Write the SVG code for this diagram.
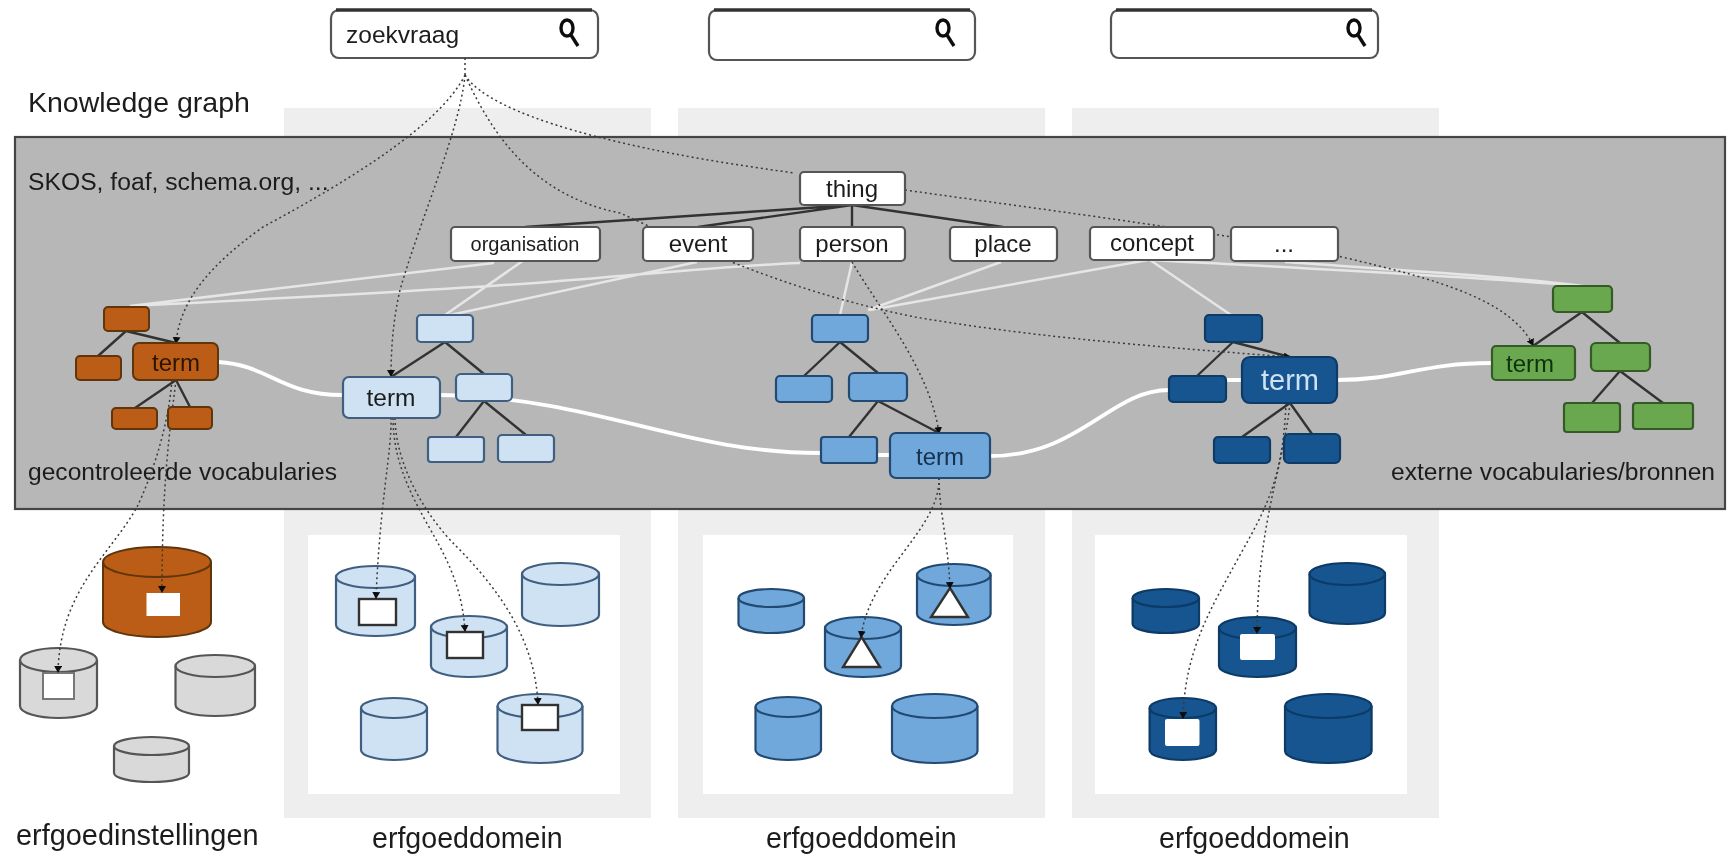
<svg xmlns="http://www.w3.org/2000/svg" width="1729" height="858" viewBox="0 0 1729 858">
<defs>
<marker id="ah" markerWidth="8" markerHeight="9" refX="6" refY="4" orient="auto" markerUnits="userSpaceOnUse"><path d="M0 0L7 4L0 8Z" fill="#111"/></marker>
<filter id="soft" x="0" y="0" width="1729" height="858" filterUnits="userSpaceOnUse"><feGaussianBlur stdDeviation="0.65"/></filter>
</defs>
<style>
text{font-family:"Liberation Sans",Arial,sans-serif;fill:#1c1c1c}
.c{text-anchor:middle}
.s{fill:#fff;stroke:#555;stroke-width:2.2}
.top{stroke:#333;stroke-width:3.5;fill:none}
.mag{fill:none;stroke:#111;stroke-width:3.4}
.col{fill:#eee}
.in{fill:#fff}
.b{fill:#fff;stroke:#555;stroke-width:2.2}
.o{fill:#bb5d12;stroke:#5e3610;stroke-width:2}
.l{fill:#cfe2f3;stroke:#3f5f80;stroke-width:2.2}
.m{fill:#6fa8dc;stroke:#234a72;stroke-width:2.2}
.d{fill:#14558f;stroke:#0c3a66;stroke-width:2.2}
.g{fill:#6aa84f;stroke:#345a26;stroke-width:2.2}
.y{fill:#d9d9d9;stroke:#555;stroke-width:2.2}
.rim{fill:none}
.w{fill:#fff;stroke:#333;stroke-width:2.4}
.wn{fill:#fff;stroke:none}
.tree{stroke:#333;stroke-width:2.4;fill:none}
.thin{stroke:#e6e6e6;stroke-width:2.5;fill:none}
.thick{stroke:#fff;stroke-width:3.8;fill:none}
.dot{stroke:#3a3a3a;stroke-width:1.5;stroke-dasharray:2 3;fill:none}
.arr{marker-end:url(#ah)}
</style>
<g filter="url(#soft)">
<g id="backgrounds">
<rect class="col" x="284" y="108" width="367" height="710"/>
<rect class="col" x="678" y="108" width="367" height="710"/>
<rect class="col" x="1072" y="108" width="367" height="710"/>
<rect class="in" x="308" y="535" width="312" height="259"/>
<rect class="in" x="703" y="535" width="310" height="259"/>
<rect class="in" x="1095" y="535" width="312" height="259"/>
</g>
<g id="knowledge-graph-panel">
<rect x="15" y="137" width="1710" height="372" fill="#b7b7b7" stroke="#444" stroke-width="2.2"/>
</g>
<g id="search-1">
<rect class="s" x="331" y="10" width="267" height="48" rx="8"/><path class="top" d="M336 10H592"/>
<ellipse class="mag" cx="567" cy="28" rx="6" ry="8"/><path class="mag" d="M571 35L578 46"/>
<text x="346" y="43" font-size="24.500">zoekvraag</text>
</g>
<g id="search-2">
<rect class="s" x="709" y="10" width="266" height="50" rx="8"/><path class="top" d="M714 10H970"/>
<ellipse class="mag" cx="943" cy="28" rx="6" ry="8"/><path class="mag" d="M947 35L954 46"/>
</g>
<g id="search-3">
<rect class="s" x="1111" y="10" width="267" height="48" rx="8"/><path class="top" d="M1116 10H1372"/>
<ellipse class="mag" cx="1354" cy="28" rx="6" ry="8"/><path class="mag" d="M1358 35L1365 46"/>
</g>
<g id="labels">
<text x="28" y="112" font-size="28.500">Knowledge graph</text>
<text x="28" y="190" font-size="24.700">SKOS, foaf, schema.org, ...</text>
<text x="28" y="480" font-size="24.600">gecontroleerde vocabularies</text>
<text x="1391" y="480" font-size="24.600">externe vocabularies/bronnen</text>
<text x="16" y="845" font-size="28.900">erfgoedinstellingen</text>
<text x="372" y="848" font-size="28.600">erfgoeddomein</text>
<text x="766" y="848" font-size="28.600">erfgoeddomein</text>
<text x="1159" y="848" font-size="28.600">erfgoeddomein</text>
</g>
<g id="cyl-orange"><path class="o" d="M103 562A54 15 0 0 1 211 562V622A54 15 0 0 1 103 622Z"/><path class="o rim" d="M103 562A54 15 0 0 0 211 562"/><rect class="wn" x="146.500" y="593" width="33.500" height="23"/></g>
<g id="cyl-gray-1"><path class="y" d="M20 660A38.500 12 0 0 1 97 660V706A38.500 12 0 0 1 20 706Z"/><path class="y rim" d="M20 660A38.500 12 0 0 0 97 660"/><rect x="43" y="673" width="31" height="26" fill="#fff" stroke="#777" stroke-width="2"/></g>
<g id="cyl-gray-2"><path class="y" d="M175.500 666A39.750 11 0 0 1 255 666V705A39.750 11 0 0 1 175.500 705Z"/><path class="y rim" d="M175.500 666A39.750 11 0 0 0 255 666"/></g>
<g id="cyl-gray-3"><path class="y" d="M114 746A37.500 9 0 0 1 189 746V773A37.500 9 0 0 1 114 773Z"/><path class="y rim" d="M114 746A37.500 9 0 0 0 189 746"/></g>
<g id="cyl-light-1"><path class="l" d="M336 577A39.500 11 0 0 1 415 577V625A39.500 11 0 0 1 336 625Z"/><path class="l rim" d="M336 577A39.500 11 0 0 0 415 577"/><rect class="w" x="359" y="599" width="37" height="26"/></g>
<g id="cyl-light-2"><path class="l" d="M522 574A38.500 11 0 0 1 599 574V615A38.500 11 0 0 1 522 615Z"/><path class="l rim" d="M522 574A38.500 11 0 0 0 599 574"/></g>
<g id="cyl-light-3"><path class="l" d="M431 627A38 11 0 0 1 507 627V666A38 11 0 0 1 431 666Z"/><path class="l rim" d="M431 627A38 11 0 0 0 507 627"/><rect class="w" x="447" y="632" width="36" height="26"/></g>
<g id="cyl-light-4"><path class="l" d="M361 708A33 10 0 0 1 427 708V750A33 10 0 0 1 361 750Z"/><path class="l rim" d="M361 708A33 10 0 0 0 427 708"/></g>
<g id="cyl-light-5"><path class="l" d="M497.500 706A42.500 12 0 0 1 582.500 706V751A42.500 12 0 0 1 497.500 751Z"/><path class="l rim" d="M497.500 706A42.500 12 0 0 0 582.500 706"/><rect class="w" x="522" y="705" width="36" height="25"/></g>
<g id="cyl-mid-1"><path class="m" d="M738.500 598A32.750 9 0 0 1 804 598V624A32.750 9 0 0 1 738.500 624Z"/><path class="m rim" d="M738.500 598A32.750 9 0 0 0 804 598"/></g>
<g id="cyl-mid-2"><path class="m" d="M825 628A38 11 0 0 1 901 628V666A38 11 0 0 1 825 666Z"/><path class="m rim" d="M825 628A38 11 0 0 0 901 628"/><path class="w" d="M861.500 637L880 667H843Z"/></g>
<g id="cyl-mid-3"><path class="m" d="M917 575A36.800 11 0 0 1 990.600 575V614A36.800 11 0 0 1 917 614Z"/><path class="m rim" d="M917 575A36.800 11 0 0 0 990.600 575"/><path class="w" d="M950 588L968 617H931Z"/></g>
<g id="cyl-mid-4"><path class="m" d="M755.500 707A32.750 10 0 0 1 821 707V750A32.750 10 0 0 1 755.500 750Z"/><path class="m rim" d="M755.500 707A32.750 10 0 0 0 821 707"/></g>
<g id="cyl-mid-5"><path class="m" d="M892 706A42.750 12 0 0 1 977.500 706V751A42.750 12 0 0 1 892 751Z"/><path class="m rim" d="M892 706A42.750 12 0 0 0 977.500 706"/></g>
<g id="cyl-dark-1"><path class="d" d="M1132.600 598A33.200 9 0 0 1 1199 598V624A33.200 9 0 0 1 1132.600 624Z"/><path class="d rim" d="M1132.600 598A33.200 9 0 0 0 1199 598"/></g>
<g id="cyl-dark-2"><path class="d" d="M1219 628A38.500 11 0 0 1 1296 628V666A38.500 11 0 0 1 1219 666Z"/><path class="d rim" d="M1219 628A38.500 11 0 0 0 1296 628"/><rect class="wn" x="1240" y="634" width="35" height="26" rx="2"/></g>
<g id="cyl-dark-3"><path class="d" d="M1309.500 574A37.750 11 0 0 1 1385 574V613A37.750 11 0 0 1 1309.500 613Z"/><path class="d rim" d="M1309.500 574A37.750 11 0 0 0 1385 574"/></g>
<g id="cyl-dark-4"><path class="d" d="M1149.600 708A33.200 10 0 0 1 1216 708V750A33.200 10 0 0 1 1149.600 750Z"/><path class="d rim" d="M1149.600 708A33.200 10 0 0 0 1216 708"/><rect class="wn" x="1165" y="719" width="34.500" height="27" rx="2"/></g>
<g id="cyl-dark-5"><path class="d" d="M1285 706A43.300 12 0 0 1 1371.600 706V751A43.300 12 0 0 1 1285 751Z"/><path class="d rim" d="M1285 706A43.300 12 0 0 0 1371.600 706"/></g>
<g id="connectors">
<path class="tree" d="M852 205L525 227M852 205L698 227M852 205V227M852 205L1003 227"/>
<path class="tree" d="M126 331L98 356M126 331L176 343M176 380L135 408M176 380L190 407"/>
<path class="tree" d="M445 342L391 377M445 342L484 374M484 401L456 437M484 401L526 435"/>
<path class="tree" d="M840 342L804 376M840 342L878 373M878 401L849 437M878 401L939 433"/>
<path class="tree" d="M1233 342L1197 376M1233 342L1290 357M1290 403L1242 437M1290 403L1312 434"/>
<path class="tree" d="M1582 312L1533 346M1582 312L1620 343M1620 371L1592 403M1620 371L1663 403"/>
<path class="thin" d="M494 263L130 306M800 263C720 266 640 275 548 282S250 300 130 306M524 260L445 315M697 262L450 315M852 262L840 315M1001 262L868 310M1148 260L870 310M1150 260L1231 315M1150 260C1300 268 1450 275 1583 286M1285 262C1400 270 1500 276 1583 286"/>
<path class="thick" d="M218 362C270 365 280 395 343 395M440 395C600 398 680 453 821 453M877 455H890M990 456C1080 456 1110 390 1169 390M1226 380H1242M1337 380C1400 380 1420 363 1492 363"/>
<path class="dot" d="M465 58V78"/>
<path class="dot arr" d="M465 75C440 125 350 180 263 227C210 265 180 300 176 343"/>
<path class="dot arr" d="M465 75C460 130 420 220 400 290C393 320 391 350 391 376"/>
<path class="dot arr" d="M465 75C490 130 530 195 620 213C680 240 780 290 915 317C1020 335 1130 345 1290 357"/>
<path class="dot arr" d="M465 75C490 115 620 150 795 173M905 190C1060 212 1220 232 1342 257C1440 280 1510 300 1533 345"/>
<path class="dot arr" d="M852 262C880 310 930 370 939 433"/>
<path class="dot arr" d="M176 380C170 430 162 480 162 592"/>
<path class="dot arr" d="M172 380C168 430 150 480 137 507C110 555 60 590 58 672"/>
<path class="dot arr" d="M391 418C392 450 380 500 376 598"/>
<path class="dot arr" d="M393 418C393 470 420 510 439 545C455 575 463 600 465 631"/>
<path class="dot arr" d="M395 418C396 470 430 520 455 545C500 590 535 640 538 704"/>
<path class="dot arr" d="M939 478C939 510 948 540 950 588"/>
<path class="dot arr" d="M939 478C940 530 870 570 861 637"/>
<path class="dot arr" d="M1290 403C1283 470 1258 520 1257 633"/>
<path class="dot arr" d="M1286 403C1283 480 1265 510 1240 555C1210 610 1185 650 1183 718"/>
</g>
<g id="thing"><rect class="b" x="800" y="172" width="105" height="33" rx="4"/><text class="c" x="852" y="197" font-size="24">thing</text></g>
<g id="organisation"><rect class="b" x="451" y="227" width="149" height="34" rx="4"/><text class="c" x="525" y="251" font-size="20">organisation</text></g>
<g id="event"><rect class="b" x="643" y="227" width="110" height="34" rx="4"/><text class="c" x="698" y="252" font-size="24">event</text></g>
<g id="person"><rect class="b" x="800" y="227" width="105" height="34" rx="4"/><text class="c" x="852" y="252" font-size="24">person</text></g>
<g id="place"><rect class="b" x="950" y="227" width="107" height="34" rx="4"/><text class="c" x="1003" y="252" font-size="24">place</text></g>
<g id="concept"><rect class="b" x="1090" y="227" width="124" height="33" rx="4"/><text class="c" x="1152" y="251" font-size="24">concept</text></g>
<g id="more"><rect class="b" x="1231" y="227" width="107" height="34" rx="4"/><text class="c" x="1284" y="252" font-size="24">...</text></g>
<g id="orange-tree">
<rect class="o" x="104" y="307" width="45" height="24" rx="4"/><rect class="o" x="76" y="356" width="45" height="24" rx="4"/>
<rect class="o" x="133" y="343" width="85" height="37" rx="6"/><text class="c" x="176" y="371" font-size="24" style="fill:#2a1505">term</text>
<rect class="o" x="112" y="408" width="45" height="21" rx="4"/><rect class="o" x="168" y="407" width="44" height="22" rx="4"/>
</g>
<g id="light-tree">
<rect class="l" x="417" y="315" width="56" height="27" rx="4"/>
<rect class="l" x="343" y="377" width="97" height="41" rx="6"/><text class="c" x="391" y="406" font-size="24.500">term</text>
<rect class="l" x="456" y="374" width="56" height="27" rx="5"/><rect class="l" x="428" y="437" width="56" height="25" rx="3"/><rect class="l" x="498" y="435" width="56" height="27" rx="4"/>
</g>
<g id="mid-tree">
<rect class="m" x="812" y="315" width="56" height="27" rx="4"/><rect class="m" x="776" y="376" width="56" height="26" rx="4"/><rect class="m" x="849" y="373" width="58" height="28" rx="5"/><rect class="m" x="821" y="437" width="56" height="26" rx="3"/>
<rect class="m" x="890" y="433" width="100" height="45" rx="6"/><text class="c" x="940" y="465" font-size="24" style="fill:#12304e">term</text>
</g>
<g id="dark-tree">
<rect class="d" x="1205" y="315" width="57" height="27" rx="4"/><rect class="d" x="1169" y="376" width="57" height="26" rx="4"/>
<rect class="d" x="1242" y="357" width="95" height="46" rx="8"/><text class="c" x="1290" y="390" font-size="29" style="fill:#cfe2f3">term</text>
<rect class="d" x="1214" y="437" width="56" height="26" rx="4"/><rect class="d" x="1284" y="434" width="56" height="29" rx="5"/>
</g>
<g id="green-tree">
<rect class="g" x="1553" y="286" width="59" height="26" rx="4"/>
<rect class="g" x="1492" y="346" width="83" height="34" rx="4"/><text class="c" x="1530" y="372" font-size="24" style="fill:#0e300b">term</text>
<rect class="g" x="1591" y="343" width="59" height="28" rx="5"/><rect class="g" x="1564" y="403" width="56" height="29" rx="3"/><rect class="g" x="1633" y="403" width="60" height="26" rx="3"/>
</g>
</g>
</svg>
